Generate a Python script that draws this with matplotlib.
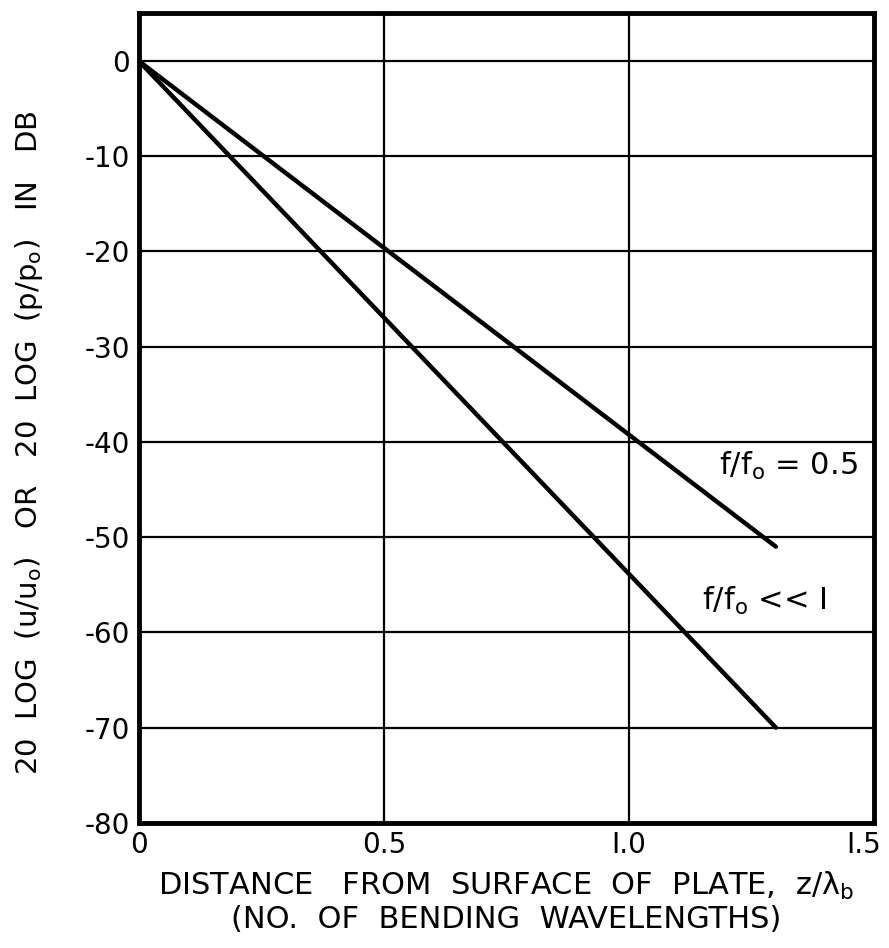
import matplotlib
matplotlib.use('Agg')
import matplotlib.pyplot as plt
import matplotlib.transforms as mtransforms

# distance z/lambda_b and level in dB
x_half = [0.0, 1.3]
y_half = [0.0, -51.0]
x_low = [0.0, 1.3]
y_low = [0.0, -70.0]

xticks = [0, 0.5, 1.0, 1.5]
xticklabels = ['0', '0.5', 'I.0', 'I.5']
yticks = [0, -10, -20, -30, -40, -50, -60, -70, -80]

plt.rcParams['font.family'] = ['DejaVu Sans']
fig = plt.figure(figsize=(8.89, 9.48), dpi=100)
ax = fig.add_axes([0.156, 0.132, 0.827, 0.854])

ax.plot(x_half, y_half, color='black', lw=3.2, solid_capstyle='round')
ax.plot(x_low, y_low, color='black', lw=3.2, solid_capstyle='round')

ax.set_xlim(0, 1.5)
ax.set_ylim(-80, 5)
ax.set_xticks(xticks)
ax.set_xticklabels(xticklabels)
ax.set_yticks(yticks)
ax.set_yticklabels([str(v) for v in yticks])
ax.grid(True, color='black', lw=1.6)
ax.tick_params(length=0, labelsize=20, pad=6)
for s in ax.spines.values():
    s.set_linewidth(3.5)

# last tick label sits a little inside the right edge
last = ax.get_xticklabels()[-1]
last.set_transform(last.get_transform() + mtransforms.ScaledTranslation(-10/100, 0, fig.dpi_scale_trans))

ax.text(1.467, -42.5, 'f/f$_\\mathregular{o}$ = 0.5', fontsize=22, ha='right', va='center')
ax.text(1.404, -56.7, 'f/f$_\\mathregular{o}$ << I', fontsize=22, ha='right', va='center')

ax.set_xlabel('DISTANCE   FROM  SURFACE  OF  PLATE,  z/$\\mathregular{\\lambda_b}$\n(NO.  OF  BENDING  WAVELENGTHS)',
              fontsize=22, labelpad=8, linespacing=1.1)
ax.set_ylabel('20  LOG  (u/u$_\\mathregular{o}$)   OR   20  LOG  (p/p$_\\mathregular{o}$)   IN   DB',
              fontsize=21)
ax.yaxis.set_label_coords(-0.128, 0.47)

fig.savefig('out.png', dpi=100)
